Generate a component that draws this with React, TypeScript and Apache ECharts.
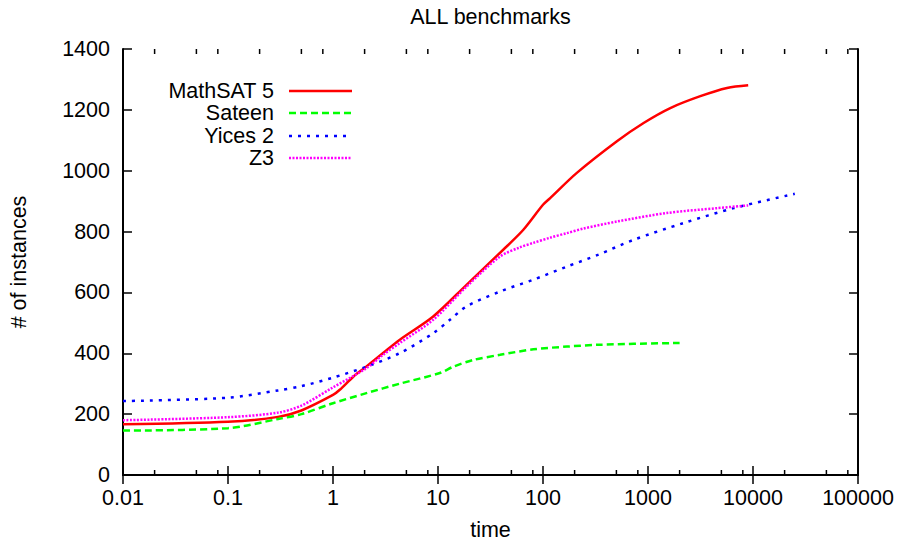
import React, { useEffect, useRef } from "react";
import * as echarts from "echarts";

const titleText = "ALL benchmarks";
const xName = "time";
const yName = "# of instances";
const seriesNames = ["MathSAT 5", "Sateen", "Yices 2", "Z3"];
const seriesColors = ["#ff0000", "#00ff00", "#0000ff", "#ff00ff"];
const seriesDash: (number[] | null)[] = [null, [7, 4], [3, 6], [2, 1.5]];

const mathsatT = [0.01, 0.1, 0.3, 0.5, 1, 1.16, 1.56, 2, 3, 4.3, 9, 18.7, 45, 65, 100, 117, 210, 506, 908, 1630, 3150, 5660, 9000];
const mathsatV = [167, 175, 191, 212, 263, 280, 323, 352, 401, 444, 521, 625, 751, 806, 888, 910, 993, 1097, 1157, 1206, 1245, 1272, 1281];

const sateenT = [0.01, 0.1, 0.3, 0.5, 1, 2.08, 4.3, 10.4, 14, 21.7, 39, 81, 169, 337, 2000];
const sateenV = [146, 154, 184, 200, 236, 269, 300, 335, 356, 378, 395, 413, 422, 428, 434];

const yicesT = [0.01, 0.1, 0.3, 0.5, 1, 2.08, 4.3, 9, 13, 18.7, 39, 81, 169, 337, 730, 2180, 6550, 25000];
const yicesV = [243, 254, 278, 292, 320, 356, 400, 466, 510, 554, 603, 642, 685, 724, 773, 828, 877, 924];

const z3T = [0.01, 0.1, 0.3, 0.5, 1, 2.08, 3, 4.3, 9, 18.7, 39, 60, 81, 117, 169, 243, 506, 1510, 4580, 9000];
const z3V = [180, 190, 205, 228, 288, 351, 395, 433, 510, 619, 718, 748, 763, 780, 795, 810, 833, 861, 877, 886];

const xMin = 0.01;
const xMax = 100000;
const yMin = 0;
const yMax = 1400;
const yStep = 200;
const minorMultipliers = [2, 5, 8];

const FONT = "Liberation Sans, Arial, Helvetica, sans-serif";
const FS = 21.5;

export default function App() {
  const ref = useRef<HTMLDivElement>(null);
  useEffect(() => {
    if (!ref.current) return;
    const chart = echarts.init(ref.current, null, { renderer: "svg" });
    const allT = [mathsatT, sateenT, yicesT, z3T];
    const allV = [mathsatV, sateenV, yicesV, z3V];
    const fmt = (v: number) => String(Number(v.toPrecision(6)));
    const axisLine = { show: true, lineStyle: { color: "#000", width: 2 } };
    const tick = { show: true, inside: true, length: 9, lineStyle: { color: "#000", width: 1.5 } };
    const option: any = {
      animation: false,
      backgroundColor: "#fff",
      grid: { left: 123, right: 48, top: 49, bottom: 70 },
      xAxis: [
        {
          type: "log", logBase: 10, min: xMin, max: xMax, position: "bottom",
          axisLine, splitLine: { show: false }, axisTick: tick,
          axisLabel: { color: "#000", fontSize: FS, fontFamily: FONT, margin: 12, formatter: fmt },
        },
        {
          type: "log", logBase: 10, min: xMin, max: xMax, position: "top",
          axisLine, splitLine: { show: false }, axisTick: tick,
          axisLabel: { show: false },
        },
      ],
      yAxis: [
        {
          type: "value", min: yMin, max: yMax, interval: yStep, position: "left",
          axisLine, splitLine: { show: false }, axisTick: tick,
          axisLabel: { color: "#000", fontSize: FS, fontFamily: FONT, margin: 13, formatter: (v: number) => String(v) },
        },
        {
          type: "value", min: yMin, max: yMax, interval: yStep, position: "right",
          axisLine, splitLine: { show: false }, axisTick: tick,
          axisLabel: { show: false },
        },
      ],
      series: seriesNames.map((name, i) => ({
        name,
        type: "line",
        xAxisIndex: 0,
        yAxisIndex: 0,
        showSymbol: false,
        smooth: 0.3,
        data: allT[i].map((t, j) => [t, allV[i][j]]),
        lineStyle: {
          color: seriesColors[i],
          width: 2.5,
          type: seriesDash[i] ? seriesDash[i] : "solid",
        },
        itemStyle: { color: seriesColors[i] },
      })),
    };
    chart.setOption(option);

    const elements: any[] = [];
    const yBottom = chart.convertToPixel({ yAxisIndex: 0 }, yMin) as number;
    const yTop = chart.convertToPixel({ yAxisIndex: 0 }, yMax) as number;
    const xLeft = chart.convertToPixel({ xAxisIndex: 0 }, xMin) as number;
    const xRight = chart.convertToPixel({ xAxisIndex: 0 }, xMax) as number;
    for (let d = xMin; d < xMax * 0.99; d *= 10) {
      for (const m of minorMultipliers) {
        const px = chart.convertToPixel({ xAxisIndex: 0 }, d * m) as number;
        elements.push({ type: "line", shape: { x1: px, y1: yBottom, x2: px, y2: yBottom - 5 }, style: { stroke: "#000", lineWidth: 1.5 } });
        elements.push({ type: "line", shape: { x1: px, y1: yTop, x2: px, y2: yTop + 5 }, style: { stroke: "#000", lineWidth: 1.5 } });
      }
    }
    const midX = (xLeft + xRight) / 2;
    elements.push({ type: "text", x: midX, y: 17, style: { text: titleText, fill: "#000", font: `${FS}px ${FONT}`, align: "center", verticalAlign: "middle" } });
    elements.push({ type: "text", x: midX, y: 530, style: { text: xName, fill: "#000", font: `${FS}px ${FONT}`, align: "center", verticalAlign: "middle" } });
    elements.push({ type: "text", x: 19, y: (yTop + yBottom) / 2, rotation: Math.PI / 2, style: { text: yName, fill: "#000", font: `${FS}px ${FONT}`, align: "center", verticalAlign: "middle" } });
    const legendY = [91, 113, 136, 158];
    seriesNames.forEach((name, i) => {
      elements.push({ type: "text", x: 274, y: legendY[i], style: { text: name, fill: "#000", font: `${FS}px ${FONT}`, align: "right", verticalAlign: "middle" } });
      elements.push({
        type: "line",
        shape: { x1: 289, y1: legendY[i], x2: 352, y2: legendY[i] },
        style: { stroke: seriesColors[i], lineWidth: 2.5, lineDash: seriesDash[i] || undefined },
      });
    });
    chart.setOption({ graphic: { elements } });

    return () => chart.dispose();
  }, []);
  return <div ref={ref} style={{ width: 906, height: 545, position: "absolute", left: 0, top: 0 }} />;
}
